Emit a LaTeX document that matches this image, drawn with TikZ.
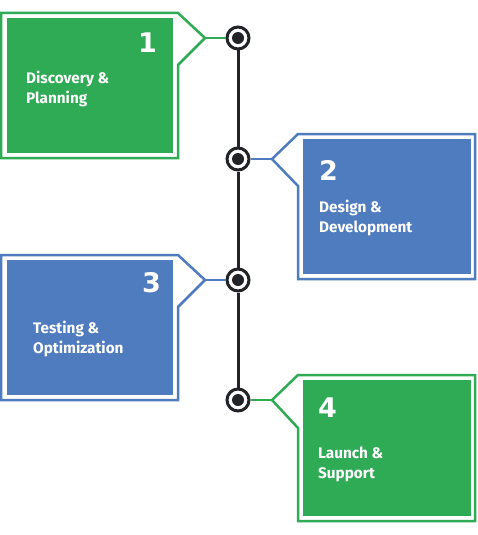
\documentclass[tikz,border=0pt]{standalone}
\usepackage{fontspec}
\setmainfont{Fira Sans}
\newfontfamily\digitfont{DejaVu Sans}
\definecolor{cgreen}{HTML}{2EAB54}
\definecolor{cblue}{HTML}{4F7BBF}
\definecolor{cdark}{HTML}{212327}
\begin{document}
\begin{tikzpicture}[x=1pt,y=-1pt,
  outl/.style={line width=2.5pt, line join=miter},
  panel/.style={draw=none, inner sep=0pt, minimum width=166pt, minimum height=135pt, anchor=north west},
  dot/.style={circle, draw=cdark, line width=3pt, fill=white, minimum size=22pt, inner sep=0pt},
  core/.style={circle, fill=cdark, minimum size=12pt, inner sep=0pt},
  num/.style={font=\digitfont\bfseries\fontsize{27}{27}\selectfont, text=white, inner sep=0pt},
  lbl/.style={font=\bfseries\fontsize{15.3}{20}\selectfont, text=white, inner sep=0pt, align=left, anchor=base west},
  conn/.style={line width=2.5pt}
]
\useasboundingbox (0,0) rectangle (477,535);
\fill[white] (0,0) rectangle (477,535);

% timeline
\node[dot] (c1) at (238,38) {};
\node[dot] (c2) at (238,159) {};
\node[dot] (c3) at (238,280) {};
\node[dot] (c4) at (238,400) {};
\draw[cdark, line width=3pt] (c1) -- (c2);
\draw[cdark, line width=3pt] (c2) -- (c3);
\draw[cdark, line width=3pt] (c3) -- (c4);
\node[core] at (c1) {};
\node[core] at (c2) {};
\node[core] at (c3) {};
\node[core] at (c4) {};

% box 1 (left, green)
\draw[outl, cgreen] (1,13) -- (178,13) -- (205,38) coordinate (t1) -- (178,65) -- (178,158) -- (1,158) -- cycle;
\node[panel, fill=cgreen] (b1) at (7,18) {};
\node[num, anchor=east] (n1) at (157,43) {1};
\node[lbl] (l1) at (26,103) {Discovery \&\\Planning};
\draw[conn, cgreen] (t1) -- (c1);

% box 2 (right, blue)
\draw[outl, cblue] (298,134) -- (475,134) -- (475,279) -- (298,279) -- (298,186) -- (272,159) coordinate (t2) -- cycle;
\node[panel, fill=cblue, minimum width=168pt] (b2) at (303,139) {};
\node[num, anchor=west] (n2) at (319,170) {2};
\node[lbl] (l2) at (319,232) {Design \&\\Development};
\draw[conn, cblue] (t2) -- (c2);

% box 3 (left, blue)
\draw[outl, cblue] (1,255) -- (178,255) -- (205,280) coordinate (t3) -- (178,307) -- (178,400) -- (1,400) -- cycle;
\node[panel, fill=cblue] (b3) at (7,260) {};
\node[num, anchor=east] (n3) at (161,283) {3};
\node[lbl] (l3) at (33,353) {Testing \&\\Optimization};
\draw[conn, cblue] (t3) -- (c3);

% box 4 (right, green)
\draw[outl, cgreen] (298,375) -- (475,375) -- (475,521) -- (298,521) -- (298,428) -- (272,400) coordinate (t4) -- cycle;
\node[panel, fill=cgreen, minimum width=168pt, minimum height=136pt] (b4) at (303,380) {};
\node[num, anchor=west] (n4) at (318,408) {4};
\node[lbl] (l4) at (318,478) {Launch \&\\Support};
\draw[conn, cgreen] (t4) -- (c4);
\end{tikzpicture}
\end{document}
